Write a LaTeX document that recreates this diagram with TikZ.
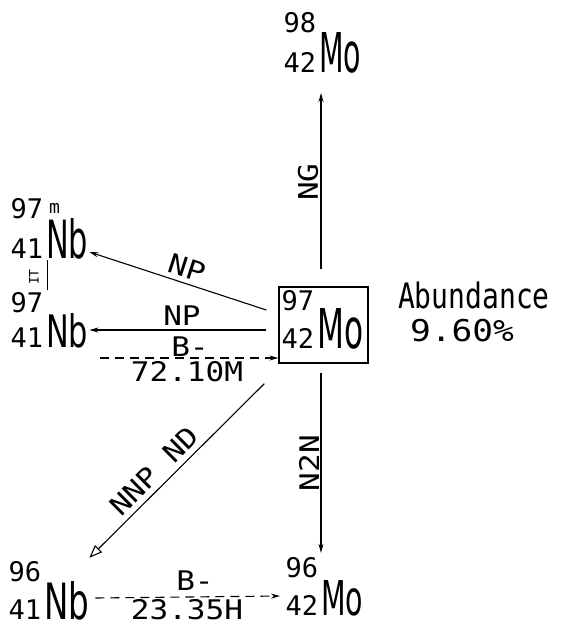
\documentclass[tikz,border=0pt]{standalone}
\usepackage{fontspec}
\usepackage{graphicx}
\usetikzlibrary{arrows.meta}
\newfontfamily\symf{DejaVu Sans}
\newfontfamily\numf{DejaVu Sans Mono}
\newfontfamily\labf[FakeStretch=1.15]{DejaVu Sans Mono}
\newfontfamily\abf[FakeStretch=0.8]{DejaVu Sans Mono}
\newcommand\numsz{\fontsize{27}{27}\numf}
% \nuc[m]{mass}{Z}{symbol}{width}{height}{mass raise}
\newcommand\nuc[7][]{%
  \llap{\smash{\raisebox{#7pt}{\numsz #2}}\kern3pt}%
  \llap{\numsz #3\kern3pt}%
  \rlap{\kern3pt\smash{\raisebox{45pt}{\fontsize{18}{18}\numf #1}}}%
  \resizebox{#5pt}{#6pt}{\fontsize{50}{50}\symf #4}}
\begin{document}
\begin{tikzpicture}[x=1pt,y=1pt,
  nucl/.style={inner sep=0pt, anchor=base west},
  lab/.style={inner sep=0pt, font=\fontsize{27}{27}\labf},
  arr/.style={line width=1.1pt, -{Stealth[length=9pt,width=5pt]}},
  darr/.style={arr, dash pattern=on 9pt off 6pt},
  oarr/.style={line width=1.1pt, -{Triangle[open,length=13pt,width=10pt]}}]
\useasboundingbox (0,0) rectangle (563,-625);

% nuclides
\node[nucl] (mo98) at (319,-72) {\nuc{98}{42}{Mo}{42}{40}{40}};
\node[nucl] (nb97m) at (46,-258) {\nuc[m]{97}{41}{Nb}{42}{40}{40}};
\node[nucl] (nb97) at (46,-347) {\nuc{97}{41}{Nb}{42}{34}{35}};
\node[nucl] (nb96) at (44,-619) {\nuc{96}{41}{Nb}{45}{38}{38}};
\node[nucl] (mo96) at (321,-615) {\nuc{96}{42}{Mo}{42}{35}{38}};
\node[draw, line width=1.3pt, minimum width=89pt, minimum height=76pt, inner sep=0pt] (box) at (323.5,-325) {};
\node[nucl] (mo97) at (317,-348) {\nuc{97}{42}{Mo}{46}{40}{38}};

% abundance
\node[inner sep=0pt, font=\fontsize{35}{35}\abf] (ab) at (474,-295) {Abundance};
\node[inner sep=0pt, font=\fontsize{30}{30}\labf] (pct) at (462,-331) {9.60\%};

% connectors
\draw[arr] ([shift={(-2.5,17)}]box.north) -- ([shift={(2,-21)}]mo98.base west);
\draw[arr] ([shift={(-2.5,-9)}]box.south) -- ([shift={(0,27)}]mo96.north west);
\draw[arr] ([shift={(-12,15)}]box.west) -- ([shift={(1,6)}]nb97m.base east);
\draw[arr] ([shift={(-12,-5)}]box.west) -- ([shift={(1,17)}]nb97.base east);
\draw[darr] ([shift={(12,-11)}]nb97.base east) -- ([shift={(0,-33)}]box.west);
\draw[oarr] ([shift={(-14,-20)}]box.south west) -- ([shift={(0,23)}]nb96.north east);
\draw[darr] ([shift={(6,21)}]nb96.base east) -- ([shift={(-41,19)}]mo96.base west);
\draw[line width=1pt] ([shift={(1,-2)}]nb97m.base west) -- ([shift={(1,23)}]nb97.north west);

% labels
\node[lab, rotate=90] (lng) at (308,-182) {NG};
\node[lab, rotate=-18] (lnp1) at (187,-268) {NP};
\node[lab] (lnp2) at (182,-316) {NP};
\node[lab] (lb1) at (190,-347) {B-};
\node[lab] (lt1) at (187,-372) {72.10M};
\node[lab, rotate=44.8] (lnnp) at (154,-471) {NNP ND};
\node[lab, rotate=90] (ln2n) at (309,-463) {N2N};
\node[lab] (lb2) at (195,-581) {B-};
\node[lab] (lt2) at (187,-610) {23.35H};
\node[inner sep=0pt, font=\fontsize{13}{13}\numf, rotate=90] (lit) at (34,-277) {IT};
\end{tikzpicture}
\end{document}
